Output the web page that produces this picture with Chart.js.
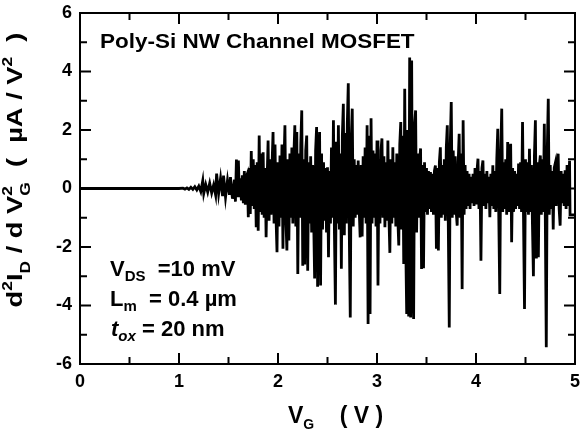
<!DOCTYPE html>
<html><head><meta charset="utf-8">
<script src="https://cdn.jsdelivr.net/npm/chart.js@4/dist/chart.umd.min.js"></script>
<style>html,body{margin:0;padding:0;background:#fff;}#wrap{width:580px;height:432px;position:relative;}</style>
</head><body><div id="wrap"><canvas id="c" width="580" height="432"></canvas></div>
<script>
// ---- data: gate voltage VG (V) and d2ID/dVG2 (uA/V^2) ----
const vgOnset = [0,0.5,1.0,1.04,1.06,1.08,1.10,1.12,1.14,1.16,1.18,1.20,1.22,1.24,1.25,1.27,1.29,1.31,1.33,1.35,1.37,1.38,1.40,1.42,1.44,1.45,1.47,1.49,1.51,1.52,1.54,1.56,1.57,1.58,1.59];
const d2idOnset = [0,0,0,0.01,-0.02,0.02,-0.03,0.04,-0.03,0.06,-0.05,0.08,-0.10,0.27,-0.17,0.14,-0.12,0.18,-0.15,0.12,-0.22,0.51,-0.18,0.35,-0.26,0.44,-0.30,0.28,-0.22,0.39,-0.35,0.30,-0.45,0.99,-0.30];

const vgMain = [
1.60,1.61,1.62,1.63,1.64,1.65,1.66,1.67,1.68,1.69,
1.70,1.71,1.72,1.73,1.74,1.75,1.76,1.77,1.78,1.79,
1.80,1.81,1.82,1.83,1.84,1.85,1.86,1.87,1.88,1.89,
1.90,1.91,1.92,1.93,1.94,1.95,1.96,1.97,1.98,1.99,
2.00,2.01,2.02,2.03,2.04,2.05,2.06,2.07,2.08,2.09,
2.10,2.11,2.12,2.13,2.14,2.15,2.16,2.17,2.18,2.19,
2.20,2.21,2.22,2.23,2.24,2.25,2.26,2.27,2.28,2.29,
2.30,2.31,2.32,2.33,2.34,2.35,2.36,2.37,2.38,2.39,
2.40,2.41,2.42,2.43,2.44,2.45,2.46,2.47,2.48,2.49,
2.50,2.51,2.52,2.53,2.54,2.55,2.56,2.57,2.58,2.59,
2.60,2.61,2.62,2.63,2.64,2.65,2.66,2.67,2.68,2.69,
2.70,2.71,2.72,2.73,2.74,2.75,2.76,2.77,2.78,2.79,
2.80,2.81,2.82,2.83,2.84,2.85,2.86,2.87,2.88,2.89,
2.90,2.91,2.92,2.93,2.94,2.95,2.96,2.97,2.98,2.99,
3.00,3.01,3.02,3.03,3.04,3.05,3.06,3.07,3.08,3.09,
3.10,3.11,3.12,3.13,3.14,3.15,3.16,3.17,3.18,3.19,
3.20,3.21,3.22,3.23,3.24,3.25,3.26,3.27,3.28,3.29,
3.30,3.31,3.32,3.33,3.34,3.35,3.36,3.37,3.38,3.39,
3.40,3.41,3.42,3.43,3.44,3.45,3.46,3.47,3.48,3.49,
3.50,3.51,3.52,3.53,3.54,3.55,3.56,3.57,3.58,3.59,
3.60,3.61,3.62,3.63,3.64,3.65,3.66,3.67,3.68,3.69,
3.70,3.71,3.72,3.73,3.74,3.75,3.76,3.77,3.78,3.79,
3.80,3.81,3.82,3.83,3.84,3.85,3.86,3.87,3.88,3.89,
3.90,3.91,3.92,3.93,3.94,3.95,3.96,3.97,3.98,3.99,
4.00,4.01,4.02,4.03,4.04,4.05,4.06,4.07,4.08,4.09,
4.10,4.11,4.12,4.13,4.14,4.15,4.16,4.17,4.18,4.19,
4.20,4.21,4.22,4.23,4.24,4.25,4.26,4.27,4.28,4.29,
4.30,4.31,4.32,4.33,4.34,4.35,4.36,4.37,4.38,4.39,
4.40,4.41,4.42,4.43,4.44,4.45,4.46,4.47,4.48,4.49,
4.50,4.51,4.52,4.53,4.54,4.55,4.56,4.57,4.58,4.59,
4.60,4.61,4.62,4.63,4.64,4.65,4.66,4.67,4.68,4.69,
4.70,4.71,4.72,4.73,4.74,4.75,4.76,4.77,4.78,4.79,
4.80,4.81,4.82,4.83,4.84,4.85,4.86,4.87,4.88,4.89];
const d2idMain = [
0.96,-0.30,0.35,-0.41,0.45,-0.50,0.60,-0.55,0.40,0.50,
-0.98,0.70,-0.87,1.28,-0.60,1.00,-0.70,0.80,-1.32,0.90,
-1.44,1.81,-0.80,1.20,-0.90,1.24,-1.00,0.70,-1.67,0.30,
1.64,-1.10,1.00,-0.90,0.80,1.93,-1.20,1.50,-1.00,-2.18,
0.90,-1.30,1.13,-1.00,1.50,-2.06,0.80,2.16,-1.10,-2.12,
1.00,-1.78,1.20,-1.00,1.40,-1.20,1.10,2.16,-1.30,1.93,
-2.92,1.20,-1.00,1.50,2.67,-2.64,1.00,-2.60,1.30,1.81,
-2.81,0.90,-1.20,1.10,-1.50,0.80,-1.00,-3.08,1.30,2.10,
-3.36,1.00,1.93,-3.32,1.20,-1.40,0.90,-1.10,0.70,-1.50,
0.73,-2.35,0.60,-1.20,1.40,-1.00,2.33,-1.50,-3.97,1.60,
-1.20,2.16,-1.40,1.20,-2.74,1.80,2.90,-1.60,1.90,-1.20,
2.20,3.60,-1.50,-4.41,1.70,2.73,-1.30,1.00,-1.00,0.80,
-0.90,0.96,-0.70,-1.67,0.80,-1.64,1.10,-1.00,1.40,-1.20,
2.16,-4.63,1.80,-4.29,2.40,-1.20,1.30,-1.00,1.20,-1.30,
1.64,-3.32,1.00,-1.20,1.30,1.71,-1.00,1.10,-1.32,0.90,
-1.10,1.64,-0.90,-2.20,1.00,-1.20,1.41,-1.00,0.90,-1.30,
1.20,-1.00,-1.95,1.50,2.27,-1.40,1.80,-2.58,3.41,-1.80,
-4.29,2.00,-4.38,4.48,-4.41,4.38,-3.00,-4.46,2.20,2.67,
-1.50,1.20,-1.00,0.90,1.37,-2.75,0.80,-2.73,0.90,-0.80,
0.70,-0.90,0.60,-0.70,0.56,-0.80,0.50,-0.90,0.60,0.79,
-2.06,0.70,-2.12,0.90,1.41,-1.00,0.80,-0.90,1.00,-1.10,
1.40,2.16,-1.20,-4.75,1.50,2.96,-1.00,1.30,-0.90,1.10,
-0.80,-1.27,0.90,1.87,-1.00,1.20,-3.44,2.33,-0.90,0.80,
-0.70,0.60,-0.60,0.50,-0.70,0.40,-0.50,0.50,-0.60,0.70,
-0.50,0.60,1.02,-0.70,0.60,-2.47,0.70,0.96,-0.60,0.50,
-0.70,0.60,-0.50,0.40,-0.98,0.50,-0.60,0.79,-0.70,0.60,
-0.80,1.00,2.04,-0.90,-3.61,1.20,2.73,-0.80,0.90,-0.70,
1.00,-0.90,1.59,-0.80,1.00,1.53,-1.84,0.70,-0.80,0.60,
-0.70,0.50,-0.60,0.85,-0.70,0.90,-0.80,2.27,-1.00,-4.12,
1.00,-0.80,0.90,-0.90,1.36,-0.80,0.80,-1.20,-3.00,1.10,
2.33,-2.39,0.90,-2.35,0.80,1.13,-0.90,1.00,-0.80,2.21,
-1.00,-5.43,1.30,3.07,-0.90,0.80,-0.70,0.60,-1.40,0.70,
0.85,-0.60,0.70,1.19,-0.70,-1.27,0.60,-0.50,0.50,-0.60];

const vgTail = [4.90,4.91,4.92,4.93,4.945,4.95,5.00];
const d2idTail = [0.62,-0.70,0.80,-0.60,0.95,-0.90,-0.90];

// ---- axes ----
const xTickLabels = [0,1,2,3,4,5];
const yTickLabels = [-6,-4,-2,0,2,4,6];
const xMinorTicks = [0.5,1.5,2.5,3.5,4.5];
const yMinorTicks = [-5,-3,-1,1,3,5];

const vg = vgOnset.concat(vgMain, vgTail);
const d2id = d2idOnset.concat(d2idMain, d2idTail);
const points = vg.map((v, i) => ({x: v, y: d2id[i]}));

const FAM = '"Liberation Sans", Arial, Helvetica, sans-serif';

function drawRich(ctx, segs, x, y, o) {
  const fontOf = k => {
    const it = k.indexOf('it') === 0 ? 'italic ' : '';
    const small = (k === 'sub' || k === 'sup' || k === 'stk' || k === 'itsub');
    return it + 'bold ' + (small ? o.small : o.size) + 'px ' + FAM;
  };
  const sx = o.stretch || 1;
  let w = 0, lastStart = 0;
  const items = [];
  for (const [t, k] of segs) {
    ctx.font = fontOf(k);
    const tw = ctx.measureText(t).width;
    let px;
    if (k === 'stk') { px = lastStart; w = Math.max(w, lastStart + tw); }
    else { px = w; lastStart = w; w += tw; }
    items.push({t, k, px});
  }
  const x0 = o.align === 'center' ? x - w * sx / 2 : x;
  ctx.save();
  ctx.translate(x0, y);
  ctx.scale(sx, 1);
  ctx.textBaseline = 'alphabetic';
  ctx.textAlign = 'left';
  ctx.fillStyle = '#000';
  for (const it of items) {
    ctx.font = fontOf(it.k);
    let dy = 0;
    if (it.k === 'sub' || it.k === 'itsub') dy = o.subDy;
    if (it.k === 'sup' || it.k === 'stk') dy = o.supDy;
    ctx.fillText(it.t, it.px, dy);
  }
  ctx.restore();
}

const framePlugin = {
  id: 'frame',
  afterDraw(chart) {
    const ctx = chart.ctx, a = chart.chartArea;
    const xs = chart.scales.x, ys = chart.scales.y;
    ctx.save();
    ctx.strokeStyle = '#000';
    ctx.lineWidth = 2;
    ctx.strokeRect(a.left, a.top, a.right - a.left, a.bottom - a.top);
    const MAJ = 11, MIN = 7;
    ctx.beginPath();
    const xt = (v, L) => { const p = xs.getPixelForValue(v);
      ctx.moveTo(p, a.bottom); ctx.lineTo(p, a.bottom - L);
      ctx.moveTo(p, a.top); ctx.lineTo(p, a.top + L); };
    const yt = (v, L) => { const p = ys.getPixelForValue(v);
      ctx.moveTo(a.left, p); ctx.lineTo(a.left + L, p);
      ctx.moveTo(a.right, p); ctx.lineTo(a.right - L, p); };
    xTickLabels.forEach(v => xt(v, MAJ));
    xMinorTicks.forEach(v => xt(v, MIN));
    yTickLabels.forEach(v => yt(v, MAJ));
    yMinorTicks.forEach(v => yt(v, MIN));
    ctx.stroke();

    // annotation
    drawRich(ctx, [['Poly-Si NW Channel MOSFET', 'n']], 100, 48, {size: 21, small: 14, subDy: 5, supDy: -8, stretch: 1.07});
    const p = {size: 22, small: 15, subDy: 5, supDy: -9};
    drawRich(ctx, [['V', 'n'], ['DS', 'sub'], ['  =10 mV', 'n']], 110, 276, p);
    drawRich(ctx, [['L', 'n'], ['m', 'sub'], ['  = 0.4 \u00b5m', 'n']], 110, 306, p);
    drawRich(ctx, [['t', 'it'], ['ox', 'itsub'], [' = 20 nm', 'n']], 111, 336, p);

    // x title
    drawRich(ctx, [['V', 'n'], ['G', 'sub'], ['    ( V )', 'n']], 288, 423, {size: 23, small: 14, subDy: 6, supDy: -9});

    // y title (rotated)
    ctx.translate(22, 170);
    ctx.rotate(-Math.PI / 2);
    drawRich(ctx, [['d', 'n'], ['2', 'sup'], ['I', 'n'], ['D', 'sub'], [' / d V', 'n'], ['G', 'sub'], ['2', 'stk'],
                   ['  (  \u00b5A / V', 'n'], ['2', 'sup'], ['  )', 'n']], 0, 0,
             {size: 22, small: 14, subDy: 8, supDy: -10, align: 'center', stretch: 1.24});
    ctx.restore();
  }
};

const noPad = s => { s.paddingLeft = 0; s.paddingRight = 0; s.paddingTop = 0; s.paddingBottom = 0; };

new Chart(document.getElementById('c'), {
  type: 'scatter',
  data: { datasets: [{ data: points, showLine: true, borderColor: '#000', backgroundColor: '#000',
    borderWidth: 2.8, pointRadius: 0, tension: 0, borderJoinStyle: 'miter' }] },
  options: {
    responsive: false, animation: false, devicePixelRatio: 1,
    layout: { padding: { left: 0, right: 5, top: 13, bottom: 0 } },
    plugins: { legend: { display: false }, tooltip: { enabled: false } },
    scales: {
      x: { type: 'linear', min: 0, max: 5,
        afterBuildTicks: s => { s.ticks = xTickLabels.map(v => ({value: v})); },
        afterFit: s => { s.height = 68; noPad(s); },
        grid: { display: false, drawTicks: false }, border: { display: false },
        ticks: { color: '#000', padding: 7, font: { family: FAM, size: 18, weight: 'bold' } } },
      y: { type: 'linear', min: -6, max: 6,
        afterBuildTicks: s => { s.ticks = yTickLabels.map(v => ({value: v})); },
        afterFit: s => { s.width = 80; noPad(s); },
        grid: { display: false, drawTicks: false }, border: { display: false },
        ticks: { color: '#000', padding: 8, font: { family: FAM, size: 18, weight: 'bold' } } }
    }
  },
  plugins: [framePlugin]
});
</script></body></html>
